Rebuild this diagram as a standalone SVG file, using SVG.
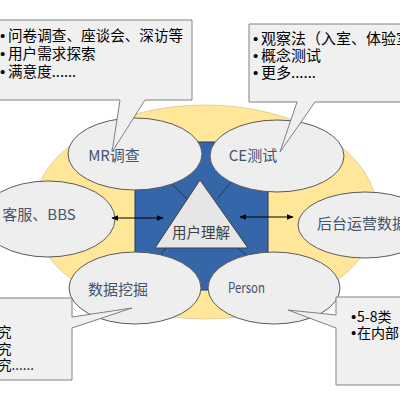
<svg xmlns="http://www.w3.org/2000/svg" width="400" height="400" viewBox="0 0 400 400">
<defs>
<style>
.oval{fill:#eeeeee;stroke:#5a5a5a;stroke-width:1}
.olab{font-family:"Noto Sans CJK SC","Noto Sans",sans-serif;font-size:15px;fill:#44546a;text-anchor:middle}
.call{fill:#f0f0f0;stroke:#808080;stroke-width:1}
.ct{font-family:"Noto Sans CJK SC","Noto Sans",sans-serif;font-size:14.6px;fill:#000}
.b{font-family:"Liberation Sans",sans-serif;font-size:15px}
.div{stroke:#1f3864;stroke-width:1}
.arr{stroke:#000;stroke-width:1.2;fill:none;marker-start:url(#ah);marker-end:url(#ah)}
</style>
<marker id="ah" viewBox="0 0 10 10" refX="9" refY="5" markerWidth="7" markerHeight="7" orient="auto-start-reverse" markerUnits="userSpaceOnUse">
<path d="M0,1 L10,5 L0,9 Z" fill="#000"/>
</marker>
</defs>
<rect width="400" height="400" fill="#ffffff"/>
<g id="background">
<ellipse cx="205" cy="212" rx="172" ry="107" fill="#ffe699" stroke="#cdbb85" stroke-width="0.6"/>
<rect x="135" y="142" width="133" height="148" fill="#3566a9" stroke="#1f3864" stroke-width="1"/>
<line class="div" x1="168" y1="180" x2="188" y2="200"/>
<line class="div" x1="233" y1="180" x2="217" y2="199"/>
<line class="div" x1="166" y1="248" x2="158" y2="258"/>
<line class="div" x1="238" y1="248" x2="248" y2="257"/>
</g>
<g id="center">
<polygon points="200,180 155,248 248,248" fill="#e6e6e6" stroke="#404040" stroke-width="1"/>
<text x="201" y="238" style="font-family:'Noto Sans CJK SC','Noto Sans',sans-serif;font-size:14.5px;fill:#404040;text-anchor:middle">用户理解</text>
</g>
<g id="mr">
<ellipse class="oval" cx="135" cy="154" rx="67" ry="36"/>
<text class="olab" x="114" y="161">MR调查</text>
</g>
<g id="ce">
<ellipse class="oval" cx="277" cy="156" rx="67" ry="36"/>
<text class="olab" x="253" y="161">CE测试</text>
</g>
<g id="kefu">
<ellipse class="oval" cx="48" cy="219" rx="67" ry="38"/>
<text class="olab" x="39" y="220">客服、BBS</text>
</g>
<g id="houtai">
<ellipse class="oval" cx="365" cy="225" rx="67" ry="33"/>
<text class="olab" x="317" y="229" style="text-anchor:start">后台运营数据</text>
</g>
<g id="wajue">
<ellipse class="oval" cx="135" cy="288" rx="66" ry="36"/>
<text class="olab" x="118" y="295">数据挖掘</text>
</g>
<g id="person">
<ellipse class="oval" cx="274" cy="288" rx="66" ry="36"/>
<text class="olab" x="228" y="293" style="font-size:14px;text-anchor:start" textLength="37" lengthAdjust="spacingAndGlyphs">Person</text>
</g>
<g id="connectors">
<line class="arr" x1="112" y1="218" x2="163" y2="218"/>
<line class="arr" x1="240" y1="217" x2="293" y2="217"/>
</g>
<g id="callout-mr">
<path class="call" d="M-5,20 H192 V100 H145 L112,152 L120,100 H-5 Z"/>
<text class="ct" x="0" y="41"><tspan class="b">•</tspan><tspan x="8">问卷调查、座谈会、深访等</tspan></text>
<text class="ct" x="0" y="59"><tspan class="b">•</tspan><tspan x="8">用户需求探索</tspan></text>
<text class="ct" x="0" y="77"><tspan class="b">•</tspan><tspan x="8">满意度......</tspan></text>
</g>
<g id="callout-ce">
<path class="call" d="M249,24 H405 V102 H315 L280,152 L297,102 H249 Z"/>
<text class="ct" x="253" y="44" style="font-size:15px"><tspan class="b">•</tspan><tspan x="261">观察法（入室、体验室</tspan></text>
<text class="ct" x="253" y="61" style="font-size:15px"><tspan class="b">•</tspan><tspan x="261">概念测试</tspan></text>
<text class="ct" x="253" y="78" style="font-size:15px"><tspan class="b">•</tspan><tspan x="261">更多......</tspan></text>
</g>
<g id="callout-wajue">
<path class="call" d="M-5,298 H72 V317 L132,308 L72,328 V380 H-5 Z"/>
<text class="ct" x="-2" y="337" style="font-size:13.5px">究</text>
<text class="ct" x="-2" y="354" style="font-size:13.5px">究</text>
<text class="ct" x="-2" y="370" style="font-size:13.5px">究......</text>
</g>
<g id="callout-person">
<path class="call" d="M336,297 H405 V385 H336 V328 L288,310 L336,315 Z"/>
<text class="ct" x="351" y="322" style="font-size:14px"><tspan class="b">•</tspan><tspan x="357">5-8类</tspan></text>
<text class="ct" x="351" y="338" style="font-size:14px"><tspan class="b">•</tspan><tspan x="357">在内部</tspan></text>
</g>
</svg>
